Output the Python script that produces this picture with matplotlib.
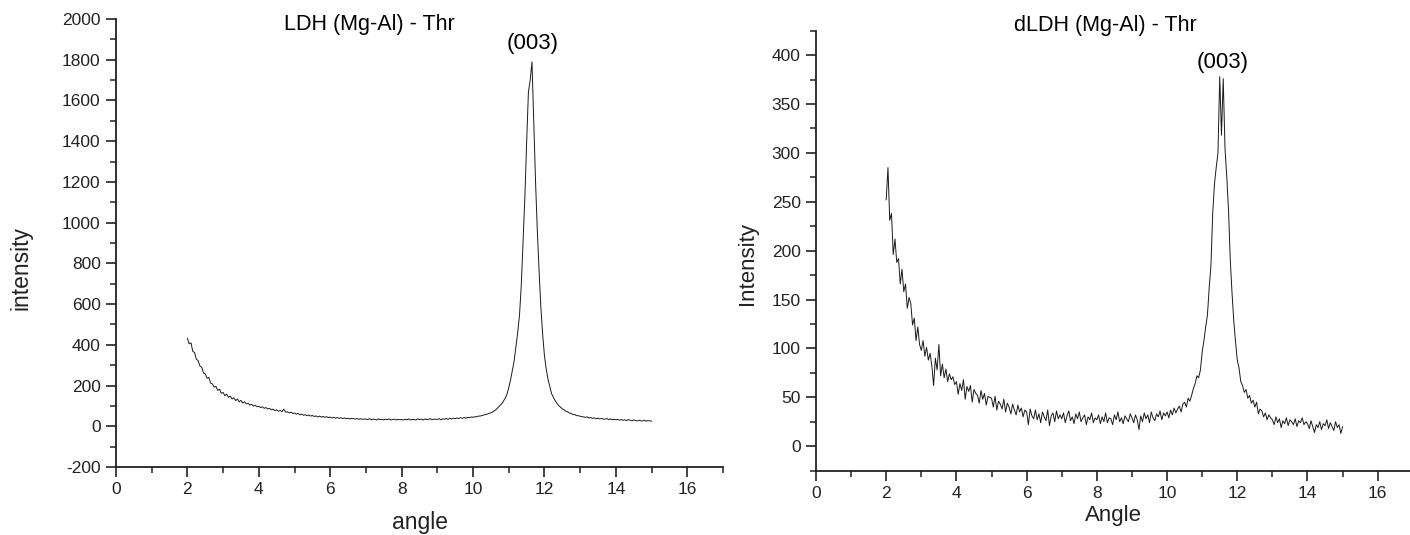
import numpy as np
import matplotlib
matplotlib.use("Agg")
import matplotlib.pyplot as plt
from matplotlib.ticker import MultipleLocator

plt.rcParams["font.family"] = ["Liberation Sans", "DejaVu Sans"]
plt.rcParams["axes.unicode_minus"] = False

# Step scan: 2.00 .. 15.00 degrees, 0.05 degree step (261 points)
scan_start = 2.0
scan_step = 0.05
n_points = 261
angle = scan_start + scan_step * np.arange(n_points)

# LDH (Mg-Al) - Thr diffractogram (counts), one row per degree
ldh_intensity = [
    432, 405, 410, 368, 362, 330, 322, 296, 290, 262, 258, 236, 240, 212, 208, 192, 196, 176, 182, 162,
    166, 150, 158, 142, 148, 134, 140, 126, 134, 120, 127, 115, 120, 110, 113, 104, 108, 99, 103, 96,
    98, 92, 96, 88, 92, 85, 88, 81, 84, 77, 81, 74, 77, 72, 84, 69, 71, 66, 69, 63,
    65, 60, 63, 56, 60, 54, 57, 52, 55, 50, 53, 48, 51, 46, 50, 45, 48, 44, 47, 43,
    45, 41, 44, 40, 43, 39, 42, 38, 41, 37, 40, 36, 39, 37, 35, 38, 34, 37, 34, 36,
    35, 33, 37, 32, 35, 34, 31, 36, 33, 34, 31, 35, 33, 36, 31, 33, 35, 31, 34, 32,
    33, 31, 35, 32, 36, 31, 34, 33, 31, 36, 33, 35, 31, 36, 33, 34, 37, 32, 35, 34,
    34, 37, 32, 36, 35, 38, 34, 39, 36, 40, 37, 41, 38, 42, 39, 43, 40, 44, 42, 46,
    44, 47, 46, 50, 50, 53, 55, 58, 60, 64, 66, 71, 76, 83, 92, 101, 110, 123, 138, 158,
    190, 228, 275, 320, 390, 460, 545, 690, 900, 1120, 1390, 1640, 1700, 1790, 1500, 1200, 960, 760, 580, 450,
    345, 280, 230, 195, 160, 142, 125, 113, 101, 94, 85, 81, 73, 71, 65, 63, 57, 57, 52, 52,
    49, 47, 46, 44, 46, 41, 43, 39, 41, 37, 40, 36, 38, 35, 35, 38, 33, 36, 32, 34,
    32, 34, 30, 33, 29, 32, 28, 32, 30, 27, 31, 28, 26, 30, 27, 26, 30, 25, 28, 26,
    26,
]

# dLDH (Mg-Al) - Thr diffractogram (counts), one row per degree
dldh_intensity = [
    252, 285, 231, 238, 196, 212, 188, 192, 166, 181, 158, 166, 141, 152, 146, 124, 131, 108, 122, 104,
    98, 108, 92, 101, 88, 95, 82, 62, 90, 78, 104, 72, 84, 70, 79, 66, 74, 68, 71, 63,
    66, 53, 64, 57, 68, 48, 61, 56, 62, 45, 58, 54, 52, 44, 57, 48, 54, 42, 51, 50,
    49, 40, 51, 37, 46, 43, 38, 48, 35, 44, 40, 33, 43, 37, 32, 42, 35, 39, 30, 37,
    35, 22, 38, 31, 28, 37, 27, 33, 24, 35, 30, 26, 37, 21, 31, 34, 25, 36, 28, 32,
    28, 34, 24, 31, 36, 26, 30, 23, 33, 28, 35, 25, 29, 32, 22, 30, 27, 34, 24, 29,
    27, 32, 23, 30, 25, 34, 24, 29, 28, 22, 32, 27, 35, 25, 29, 23, 31, 28, 25, 33,
    29, 24, 32, 27, 17, 31, 25, 34, 28, 32, 24, 35, 29, 26, 33, 30, 36, 27, 34, 31,
    35, 29, 37, 32, 39, 34, 38, 41, 35, 43, 45, 40, 49, 46, 52, 59, 64, 72, 70, 78,
    96, 108, 122, 134, 162, 185, 238, 268, 285, 300, 378, 318, 376, 305, 276, 242, 191, 157, 128, 107,
    88, 80, 66, 62, 55, 58, 49, 52, 44, 47, 40, 45, 33, 38, 36, 30, 34, 27, 32, 29,
    27, 22, 30, 24, 28, 19, 26, 23, 29, 21, 27, 25, 22, 28, 20, 26, 24, 29, 22, 25,
    23, 18, 26, 20, 14, 22, 19, 25, 17, 23, 21, 27, 18, 24, 20, 16, 25, 19, 22, 13,
    20,
]

W, H = 1410, 535
fig = plt.figure(figsize=(W / 100, H / 100), dpi=100)


def frame(ax):
    for side in ("top", "right"):
        ax.spines[side].set_visible(False)
    for side in ("left", "bottom"):
        ax.spines[side].set_linewidth(1.3)
        ax.spines[side].set_color("#222222")
    ax.tick_params(which="major", direction="out", length=7, width=1.2,
                   labelsize=12.5, colors="#222222", pad=4)
    ax.tick_params(which="minor", direction="out", length=4, width=1.1,
                   colors="#222222")
    ax.set_facecolor("white")


# ---- left panel: LDH ----
ax1 = fig.add_axes([116 / W, 1 - 467 / H, (723 - 116) / W, (467 - 19) / H])
ax1.plot(angle, ldh_intensity, color="#1a1a1a", lw=0.7)
ax1.set_xlim(0, 17)
ax1.set_ylim(-200, 2000)
ax1.xaxis.set_major_locator(MultipleLocator(2))
ax1.xaxis.set_minor_locator(MultipleLocator(1))
ax1.yaxis.set_major_locator(MultipleLocator(200))
ax1.yaxis.set_minor_locator(MultipleLocator(100))
frame(ax1)
ax1.text(7.1, 1972, "LDH (Mg-Al) - Thr", ha="center", va="center", fontsize=15.5)
ax1.text(11.66, 1882, "(003)", ha="center", va="center", fontsize=16)
fig.text(21 / W, 1 - 268 / H, "intensity", rotation=90, ha="center", va="center",
         fontsize=16.5, color="#222222")
fig.text(420 / W, 1 - 522 / H, "angle", ha="center", va="center",
         fontsize=16.5, color="#222222")

# ---- right panel: dLDH ----
ax2 = fig.add_axes([816 / W, 1 - 470.6 / H, (1410 - 816) / W, (470.6 - 30.7) / H])
ax2.plot(angle, dldh_intensity, color="#1a1a1a", lw=0.7)
ax2.set_xlim(0, 16.92)
ax2.set_ylim(-25, 425)
ax2.xaxis.set_major_locator(MultipleLocator(2))
ax2.xaxis.set_minor_locator(MultipleLocator(1))
ax2.yaxis.set_major_locator(MultipleLocator(50))
ax2.yaxis.set_minor_locator(MultipleLocator(25))
frame(ax2)
ax2.text(8.23, 430, "dLDH (Mg-Al) - Thr", ha="center", va="center", fontsize=15.5,
         clip_on=False)
ax2.text(11.57, 392, "(003)", ha="center", va="center", fontsize=16)
fig.text(748 / W, 1 - 264 / H, "Intensity", rotation=90, ha="center", va="center",
         fontsize=16, color="#222222")
fig.text(1113 / W, 1 - 516 / H, "Angle", ha="center", va="center",
         fontsize=16, color="#222222")

fig.savefig("out.png", dpi=100, facecolor="white")
